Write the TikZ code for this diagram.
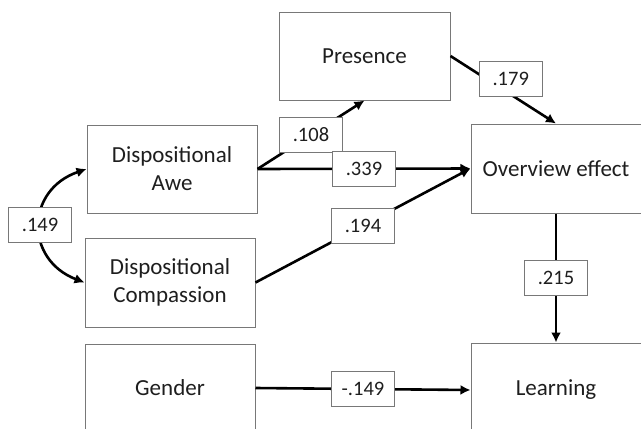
\documentclass[tikz,border=0pt]{standalone}
\usepackage{fontspec}
\setmainfont{Carlito}
\usepackage{xcolor}
\usepackage{tikz}
\usetikzlibrary{positioning,arrows.meta}
\definecolor{edgegray}{RGB}{120,120,120}
\definecolor{inkgray}{RGB}{30,30,30}

\begin{document}
\begin{tikzpicture}[
x=1pt, y=-1pt,
box/.style={draw=edgegray, line width=1pt, align=center, minimum width=170pt, minimum height=88pt, inner sep=0pt, text=inkgray, font=\fontsize{23pt}{28pt}\selectfont},
lbl/.style={draw=edgegray, line width=1pt, fill=white, minimum width=63pt, minimum height=35pt, inner sep=0pt, text=inkgray, font=\fontsize{20.5pt}{24pt}\selectfont},
arr/.style={-{Latex[length=10pt,width=10pt]}, line width=2.6pt}
]
\useasboundingbox (0,0) rectangle (641,429);
\node[box, minimum width=171pt] (presence) at (364.5,56) {Presence};
\node[box] (awe) at (172,169) {Dispositional\\Awe};
\node[box, minimum height=89pt] (compassion) at (170,282.5) {Dispositional\\Compassion};
\node[box] (gender) at (170,388) {Gender};
\node[box, minimum height=89pt] (overview) at (556,168.5) {Overview effect};
\node[box, minimum height=94pt] (learning) at (556,390) {Learning};
\draw[arr, {Latex[length=10pt,width=10pt]}-{Latex[length=10pt,width=10pt]}] (awe.west) to[bend right=70, looseness=1.45] node[lbl] {.149} (compassion.west);
\draw[arr] (awe.east) -- node[lbl] {.108} (presence.south);
\draw[arr] (awe.east) -- node[lbl] {.339} (overview.west);
\draw[arr] (compassion.east) -- node[lbl] {.194} (overview.west);
\draw[arr] (presence.east) -- node[lbl, xshift=7.5pt, yshift=11pt] {.179} (overview.north);
\draw[arr] (overview.south) -- node[lbl] {.215} (learning.north);
\draw[arr] (gender.east) -- node[lbl] {-.149} (learning.west);
\end{tikzpicture}
\end{document}
